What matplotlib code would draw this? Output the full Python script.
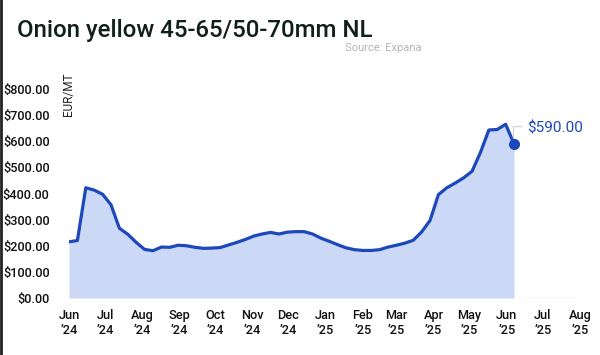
import matplotlib
matplotlib.use("Agg")
import matplotlib.pyplot as plt
from matplotlib.lines import Line2D
import pandas as pd

title = "Onion yellow 45-65/50-70mm NL"
source = "Source: Expana"
unit = "EUR/MT"
start_date = "2024-06-01"
prices = [215, 220, 422, 413, 397, 357, 267, 244, 213, 186,
          181, 195, 194, 202, 200, 194, 190, 191, 193, 203,
          213, 224, 237, 245, 251, 245, 252, 254, 254, 245,
          229, 217, 204, 192, 185, 182, 182, 185, 195, 202,
          210, 221, 253, 297, 396, 422, 440, 460, 485, 557,
          643, 645, 665, 590]
yticks = [0, 100, 200, 300, 400, 500, 600, 700, 800]
month_ticks = pd.date_range("2024-06-01", "2025-08-01", freq="MS")

dates = pd.date_range(start_date, periods=len(prices), freq="7D")

line_c = "#1c48bb"
fill_c = "#ccd9f6"

fig = plt.figure(figsize=(6, 3.55), dpi=100)
ax = fig.add_axes([69/600, 1-298/355, (580-69)/600, (298-89)/355])

ax.fill_between(dates, prices, 0, color=fill_c, lw=0, zorder=1)
ax.plot(dates, prices, color=line_c, lw=2.3, zorder=3, solid_joinstyle="round")
ax.plot(dates[-1:], prices[-1:], "o", color=line_c, ms=7, zorder=4)
ax.axhline(0, color="#e8e8e8", lw=1, zorder=0)

ax.set_xlim(month_ticks[0], month_ticks[-1])
ax.set_ylim(0, 800)
for s in ax.spines.values():
    s.set_visible(False)

tick_font = dict(family=["Roboto", "DejaVu Sans"], fontweight="medium")
ax.set_yticks(yticks)
ax.set_yticklabels([f"${v:.2f}" for v in yticks], fontsize=9.2, color="#111111", **tick_font)
ax.set_xticks(month_ticks)
ax.set_xticklabels([d.strftime("%b") + "\n\u2019" + d.strftime("%y") for d in month_ticks],
                   fontsize=9.2, color="#111111", linespacing=1.2, **tick_font)
ax.tick_params(axis="both", length=0)
ax.tick_params(axis="y", pad=14)
ax.tick_params(axis="x", pad=8)

fig.text(68/600, 1-94/355, unit, rotation=90, ha="center", va="center",
         fontsize=8.5, color="#222222", family=["Roboto", "DejaVu Sans"])

fig.text(17/600, 1-31/355, title, ha="left", va="center", fontsize=17.3,
         color="#0e1f1c", family=["Roboto", "DejaVu Sans"], fontweight="medium")
fig.text(345/600, 1-48/355, source, ha="left", va="center", fontsize=8,
         color="#b5b5b5", family=["Roboto", "DejaVu Sans"])

ax.annotate(f"${prices[-1]:.2f}", xy=(dates[-1], prices[-1]),
            xytext=(527/600, 1-128/355), textcoords="figure fraction",
            ha="left", va="center", fontsize=11, color=line_c,
            family=["Roboto", "DejaVu Sans"])
fig.add_artist(Line2D([513/600, 513/600, 521/600], [1-137/355, 1-126/355, 1-126/355],
                      color="#d5d5d5", lw=1))

fig.add_artist(Line2D([0.002, 0.002], [0, 1], color="#222222", lw=2))

fig.savefig("out.png", dpi=100)
